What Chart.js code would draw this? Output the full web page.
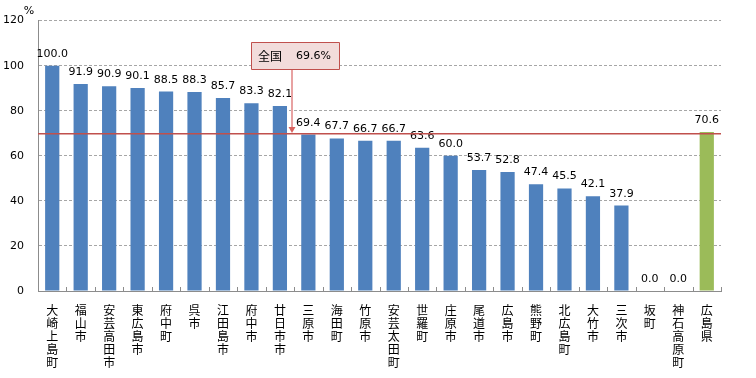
<!DOCTYPE html>
<html><head><meta charset="utf-8">
<script src="https://cdn.jsdelivr.net/npm/chart.js@4"></script>
<style>html,body{margin:0;padding:0;background:#fff}#wrap{width:756px;height:378px}</style>
</head><body><div id="wrap"><canvas id="c"></canvas></div>
<script>
const categories = ["大崎上島町","福山市","安芸高田市","東広島市","府中町","呉市","江田島市","府中市","廿日市市","三原市","海田町","竹原市","安芸太田町","世羅町","庄原市","尾道市","広島市","熊野町","北広島町","大竹市","三次市","坂町","神石高原町","広島県"];
const values = [100.0,91.9,90.9,90.1,88.5,88.3,85.7,83.3,82.1,69.4,67.7,66.7,66.7,63.6,60.0,53.7,52.8,47.4,45.5,42.1,37.9,0.0,0.0,70.6];
const nationalValue = 69.6;
const nationalLabel = "全国";
const yMax = 120;
const yStep = 20;
const unitLabel = "%";

const colors = categories.map(c => c === "広島県" ? "#9bbb59" : "#4f81bd");
const NUMFONT = "11px 'DejaVu Sans'";

const overlay = {
  id: 'overlay',
  afterDatasetsDraw(chart) {
    const ctx = chart.ctx, x = chart.scales.x, y = chart.scales.y, a = chart.chartArea;
    ctx.save();
    ctx.fillStyle = '#8c8c8c';
    for (let i = 1; i <= categories.length; i++) {
      const px = Math.round(a.left + (a.right - a.left) * i / categories.length);
      ctx.fillRect(px, Math.round(a.bottom) - 4, 1, 4);
    }
    ctx.fillStyle = '#000'; ctx.font = NUMFONT; ctx.textAlign = 'center'; ctx.textBaseline = 'alphabetic';
    const meta = chart.getDatasetMeta(0);
    meta.data.forEach((bar, i) => {
      ctx.fillText(values[i].toFixed(1), bar.x, bar.y - 9);
    });
    const ly = Math.round(y.getPixelForValue(nationalValue));
    ctx.fillStyle = '#c0504d';
    ctx.fillRect(a.left, ly - 1, a.right - a.left, 1.5);
    const cx = Math.round((x.getPixelForValue(8) + x.getPixelForValue(9)) / 2 - 2);
    const bw = 88, bh = 27;
    const bx = Math.round(cx - bw / 2 + 3), by = Math.round(y.getPixelForValue(110.4));
    ctx.fillStyle = '#e8a2a2';
    ctx.fillRect(cx - 1, by + bh, 2, ly - 4 - (by + bh));
    ctx.fillStyle = '#d9625f';
    ctx.beginPath(); ctx.moveTo(cx - 3.5, ly - 7); ctx.lineTo(cx + 3.5, ly - 7); ctx.lineTo(cx, ly - 1); ctx.closePath(); ctx.fill();
    ctx.fillStyle = '#f2dcdb'; ctx.fillRect(bx, by, bw, bh);
    ctx.strokeStyle = '#c0504d'; ctx.lineWidth = 1;
    ctx.beginPath(); ctx.rect(bx + 0.5, by + 0.5, bw, bh); ctx.stroke();
    ctx.fillStyle = '#000'; ctx.textBaseline = 'middle'; ctx.textAlign = 'left';
    ctx.font = "12px 'Noto Sans CJK JP'";
    ctx.fillText(nationalLabel, bx + 7, by + bh / 2 + 1);
    ctx.font = NUMFONT;
    ctx.fillText(nationalValue.toFixed(1) + "%", bx + 45, by + bh / 2 + 1);
    ctx.textAlign = 'center';
    ctx.fillText(unitLabel, 29, 11);
    ctx.restore();
  }
};

new Chart(document.getElementById('c'), {
  type: 'bar',
  data: {
    labels: categories.map(c => Array.from(c)),
    datasets: [{ data: values, backgroundColor: colors, barPercentage: 0.5, categoryPercentage: 1.0 }]
  },
  options: {
    responsive: true, maintainAspectRatio: false, animation: false,
    layout: { padding: { top: 20, right: 35, left: 0, bottom: 0 } },
    plugins: { legend: { display: false }, tooltip: { enabled: false } },
    scales: {
      x: {
        grid: { display: false },
        border: { display: true, color: '#8c8c8c', width: 1 },
        ticks: { color: '#000', font: { family: "'Noto Sans CJK JP'", size: 12, lineHeight: 13 / 12 }, padding: 5, maxRotation: 0, minRotation: 0, autoSkip: false },
        afterFit(s) { s.height = 87; }
      },
      y: {
        min: 0, max: yMax,
        ticks: { stepSize: yStep, color: '#000', font: { family: "'DejaVu Sans'", size: 11 }, padding: 14 },
        grid: { display: true, color: '#a6a6a6', lineWidth: 1, drawTicks: false },
        border: { display: true, color: '#8c8c8c', width: 1, dash: [3, 2] },
        afterFit(s) { s.width = 38; }
      }
    }
  },
  plugins: [overlay]
});
</script></body></html>
